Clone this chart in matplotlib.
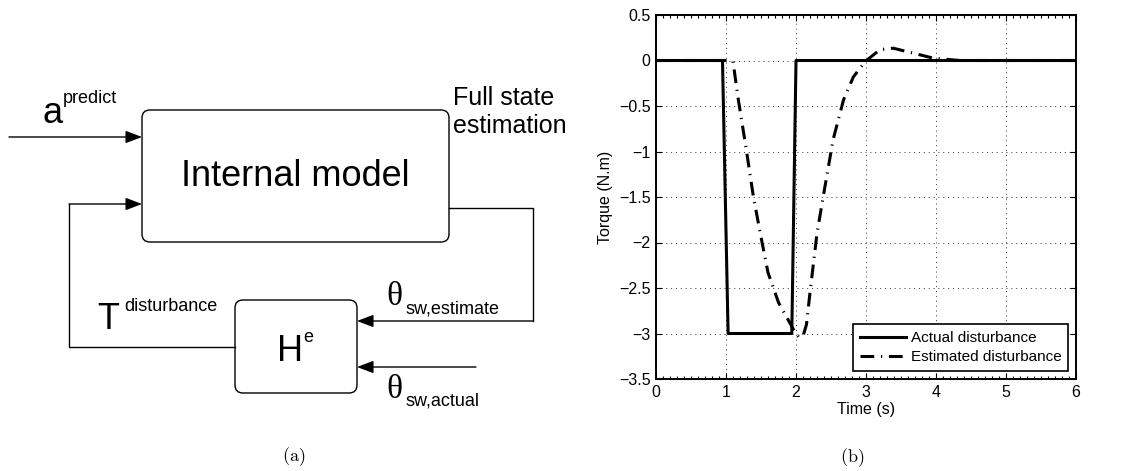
import matplotlib.pyplot as plt
from matplotlib.patches import FancyBboxPatch
from matplotlib.ticker import MultipleLocator

# Data for panel (b)
actual_t = [0, 0.95, 1.03, 1.94, 2.0, 6]
actual_tq = [0, 0, -3, -3, 0, 0]

est_t = [0, 1.0, 1.05, 1.10, 1.17, 1.29, 1.39, 1.49, 1.60, 1.75, 1.91, 1.98,
         2.04, 2.10, 2.15, 2.20, 2.30, 2.39, 2.53, 2.68, 2.82, 2.99, 3.2,
         3.39, 3.68, 3.96, 4.34, 5.0, 6.0]
est_tq = [0, 0, 0, -0.01, -0.4, -0.98, -1.49, -1.9, -2.33, -2.66, -2.88, -2.98,
          -3.04, -3.03, -2.9, -2.55, -1.9, -1.49, -0.87, -0.43, -0.18, -0.01, 0.12,
          0.135, 0.08, 0.026, 0.0, 0.0, 0.0]

legend_labels = ["Actual disturbance", "Estimated disturbance"]
x_ticks = [0, 1, 2, 3, 4, 5, 6]
y_ticks = [0.5, 0, -0.5, -1, -1.5, -2, -2.5, -3, -3.5]

sans = "Liberation Sans"
serif = "Liberation Serif"
plt.rcParams["font.family"] = [sans, "DejaVu Sans"]
plt.rcParams["mathtext.fontset"] = "cm"

W, H = 1121, 471
fig = plt.figure(figsize=(W / 100, H / 100), dpi=100)

# ---------------- (a) block diagram, pixel coordinates ----------------
ad = fig.add_axes([0, 0, 560.5 / W, 1])
ad.set_xlim(0, 560.5)
ad.set_ylim(H, 0)
ad.axis("off")

def box(x0, y0, x1, y1):
    ad.add_patch(FancyBboxPatch((x0, y0), x1 - x0, y1 - y0,
                                boxstyle="round,pad=0,rounding_size=8",
                                fc="white", ec="black", lw=1.0))

def arrow(x0, y0, x1, y1):
    ad.annotate("", xy=(x1, y1), xytext=(x0, y0),
                arrowprops=dict(arrowstyle="-|>,head_length=1.0,head_width=0.38",
                                color="black", lw=1.0, shrinkA=0, shrinkB=0))

box(142, 110, 449, 242)
box(235, 300, 357, 393)

# input a^predict
arrow(9, 137, 142, 137)
# feedback T^disturbance
ad.plot([235, 69, 69], [347, 347, 204], color="black", lw=1.0)
arrow(69, 204, 142, 204)
# output full state
arrow(449, 137, 585, 137)
# estimate loop
ad.plot([449, 533, 533], [208, 208, 321], color="black", lw=1.0)
arrow(533, 321, 357, 321)
# actual input
arrow(476, 367, 357, 367)

ad.text(295, 177, "Internal model", fontsize=26, ha="center", va="center")
ad.text(453, 105, "Full state", fontsize=18, va="baseline")
ad.text(453, 133, "estimation", fontsize=18, va="baseline")
ad.text(43, 123, "a", fontsize=26, va="baseline")
ad.text(63, 103, "predict", fontsize=13, va="baseline")
ad.text(97, 329, "T", fontsize=26, va="baseline")
ad.text(124, 311, "disturbance", fontsize=13, va="baseline")
ad.text(277, 361, "H", fontsize=26, va="baseline")
ad.text(303, 342, "e", fontsize=13, va="baseline")
ad.text(386, 305, "\u03b8", fontsize=24, va="baseline", family=serif)
ad.text(405, 313, "sw,estimate", fontsize=13, va="baseline")
ad.text(386, 398, "\u03b8", fontsize=24, va="baseline", family=serif)
ad.text(405, 405, "sw,actual", fontsize=13, va="baseline")
ad.text(294, 457, r"$\mathrm{(a)}$", fontsize=13, ha="center", va="center")

# ---------------- (b) disturbance plot ----------------
ax = fig.add_axes([656 / W, 1 - 379 / H, 420 / W, 364 / H])
ax.plot(actual_t, actual_tq, color="black", lw=2.2, label=legend_labels[0])
ax.plot(est_t, est_tq, color="black", lw=2.2,
        linestyle=(0, (4.5, 2.2, 0.4, 2.2)), label=legend_labels[1])

ax.set_xlim(0, 6)
ax.set_ylim(-3.5, 0.5)
ax.set_xticks(x_ticks)
ax.set_yticks(y_ticks)
ax.set_yticklabels([f"{v:g}".replace("-", "\u2212") for v in y_ticks])
ax.xaxis.set_minor_locator(MultipleLocator(0.1))
ax.tick_params(which="both", direction="in", top=True, right=True,
               labelsize=11.5, width=0.8)
ax.tick_params(which="major", length=4, pad=4)
ax.tick_params(which="minor", length=2)
for s in ax.spines.values():
    s.set_linewidth(1.4)
ax.grid(True, which="major", linestyle=(0, (1, 4)), color="black", lw=0.7, alpha=0.8)

ax.set_xlabel("Time (s)", fontsize=11.5, labelpad=2)
ax.set_ylabel("Torque (N.m)", fontsize=11.5, labelpad=4)

leg = ax.legend(loc="lower right", fontsize=11, fancybox=False, framealpha=1,
                edgecolor="black", handlelength=3.0, borderaxespad=0.5,
                borderpad=0.45, labelspacing=0.35, handletextpad=0.3)
leg.get_frame().set_linewidth(1.2)

fig.text(852 / W, 1 - 458 / H, r"$\mathrm{(b)}$", fontsize=13,
         ha="center", va="center")

fig.savefig("out.png", dpi=100)
